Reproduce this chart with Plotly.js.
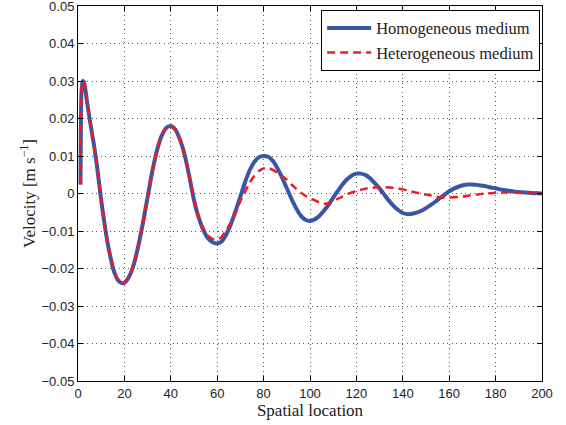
<!DOCTYPE html>
<html>
<head>
<meta charset="utf-8">
<script src="https://cdn.plot.ly/plotly-3.0.1.min.js"></script>
<style>
html, body { margin: 0; padding: 0; background: #fff; }
#chart { width: 566px; height: 425px; }
</style>
</head>
<body>
<div id="chart"></div>
<script>
// Spatial location (x)
const spatialLocation = [
  1.1, 1.5, 2, 2.5, 3, 4, 5, 6, 7, 8, 9, 10, 11, 12, 13, 14, 15, 16, 17, 18, 19,
  20, 22, 24, 26, 28, 30, 32, 34, 36, 38, 40, 42, 44, 46, 48, 50, 52, 54, 56, 58,
  60, 62, 64, 66, 68, 70, 72, 74, 76, 78, 80, 82, 84, 86, 88, 90, 92, 94, 96, 98,
  100, 102, 104, 106, 108, 110, 112, 114, 116, 118, 120, 122, 124, 126, 128, 130,
  132, 134, 136, 138, 140, 142, 144, 146, 148, 150, 152, 154, 156, 158, 160, 162,
  164, 166, 168, 170, 172, 174, 176, 178, 180, 182, 184, 186, 188, 190, 192, 194,
  196, 198, 200
];

// Velocity, homogeneous medium
const homogeneous = [
  0.0024, 0.0270, 0.0300, 0.0298, 0.0285, 0.0240, 0.0200, 0.0162, 0.0124, 0.0082, 0.0032,
  -0.0018, -0.0062, -0.0104, -0.0140, -0.0170, -0.0197, -0.0216, -0.0229, -0.0236, -0.0239,
  -0.0238, -0.0222, -0.0190, -0.0140, -0.0078, -0.0010, 0.0058, 0.0114, 0.0153, 0.0175,
  0.0180, 0.0170, 0.0143, 0.0103, 0.0045, -0.0018, -0.0064, -0.0097, -0.0119, -0.0130,
  -0.0133, -0.0127, -0.0108, -0.0080, -0.0045, -0.0008, 0.0030, 0.0062, 0.0084, 0.0097,
  0.0100, 0.0098, 0.0087, 0.0067, 0.0042, 0.0014, -0.0014, -0.0039, -0.0059, -0.0070,
  -0.0073, -0.0069, -0.0060, -0.0046, -0.0030, -0.0011, 0.0007, 0.0024, 0.0038, 0.0048,
  0.0053, 0.0053, 0.0049, 0.0040, 0.0027, 0.0013, -0.0003, -0.0019, -0.0033, -0.0044,
  -0.0052, -0.0055, -0.0054, -0.0051, -0.0046, -0.0039, -0.0031, -0.0022, -0.0012, -0.0003,
  0.0006, 0.0013, 0.0018, 0.0022, 0.0024, 0.0024, 0.0023, 0.0021, 0.0019, 0.0016,
  0.0014, 0.0011, 0.0009, 0.0007, 0.0005, 0.0004, 0.0003, 0.0002, 0.0001, 0.0001, 0.0000
];

// Velocity, heterogeneous medium
const heterogeneous = [
  0.0024, 0.0270, 0.0300, 0.0298, 0.0285, 0.0240, 0.0200, 0.0162, 0.0124, 0.0082, 0.0032,
  -0.0018, -0.0062, -0.0104, -0.0140, -0.0170, -0.0197, -0.0216, -0.0229, -0.0236, -0.0239,
  -0.0238, -0.0222, -0.0190, -0.0140, -0.0078, -0.0010, 0.0058, 0.0114, 0.0153, 0.0175,
  0.0180, 0.0170, 0.0143, 0.0103, 0.0045, -0.0018, -0.0064, -0.0093, -0.0112, -0.0121,
  -0.0123, -0.0115, -0.0097, -0.0076, -0.0050, -0.0020, 0.0005, 0.0029, 0.0047, 0.0060,
  0.0067, 0.0068, 0.0063, 0.0055, 0.0046, 0.0037, 0.0024, 0.0013, 0.0003, -0.0006,
  -0.0013, -0.0018, -0.0024, -0.0027, -0.0026, -0.0021, -0.0014, -0.0008, -0.0002, 0.0003,
  0.0007, 0.0010, 0.0013, 0.0015, 0.0016, 0.0017, 0.0017, 0.0016, 0.0015, 0.0013,
  0.0011, 0.0008, 0.0005, 0.0002, -0.0001, -0.0003, -0.0005, -0.0008, -0.0010, -0.0011,
  -0.0011, -0.0010, -0.0009, -0.0008, -0.0006, -0.0004, -0.0003, -0.0001, 0.0000, 0.0001,
  0.0002, 0.0003, 0.0003, 0.0004, 0.0003, 0.0003, 0.0002, 0.0002, 0.0002, 0.0001, 0.0001
];

const seriesNames = ['Homogeneous medium', 'Heterogeneous medium'];

const traces = [
  {
    x: spatialLocation, y: homogeneous, type: 'scatter', mode: 'lines',
    name: seriesNames[0],
    line: { color: '#3A55A5', width: 4, shape: 'spline', smoothing: 0.6 }
  },
  {
    x: spatialLocation, y: heterogeneous, type: 'scatter', mode: 'lines',
    name: seriesNames[1],
    line: { color: '#ED1C24', width: 2.5, dash: '8px,5px', shape: 'spline', smoothing: 0.6 }
  }
];

const axisCommon = {
  showline: true, linecolor: '#000', linewidth: 1, mirror: 'ticks',
  ticks: 'inside', ticklen: 5, tickcolor: '#000', tickwidth: 1,
  showgrid: true, gridcolor: '#555', griddash: '1px,3.5px', gridwidth: 1,
  zeroline: false, ticklabeloverflow: 'allow',
  tickfont: { family: 'Liberation Sans, Arial, sans-serif', size: 13, color: '#222' }
};

const layout = {
  width: 566, height: 425,
  margin: { l: 78, r: 24, t: 6, b: 44 },
  paper_bgcolor: '#fff', plot_bgcolor: '#fff',
  showlegend: true,
  xaxis: Object.assign({}, axisCommon, {
    range: [0, 200], dtick: 20, tick0: 0,
    title: { text: 'Spatial location', standoff: 4,
      font: { family: 'Liberation Serif, Times New Roman, serif', size: 17, color: '#222' } }
  }),
  yaxis: Object.assign({}, axisCommon, {
    range: [-0.05, 0.05], dtick: 0.01, tick0: 0,
    title: { text: 'Velocity [m s<sup>\u22121</sup>]', standoff: 1,
      font: { family: 'Liberation Serif, Times New Roman, serif', size: 17, color: '#222' } }
  }),
  legend: {
    x: 0.996, y: 0.99, xanchor: 'right', yanchor: 'top',
    bgcolor: '#fff', bordercolor: '#000', borderwidth: 1,
    itemwidth: 44,
    font: { family: 'Liberation Serif, Times New Roman, serif', size: 16.5, color: '#222' },
    tracegroupgap: 0
  }
};

Plotly.newPlot('chart', traces, layout, { displayModeBar: false, staticPlot: true });
</script>
</body>
</html>
